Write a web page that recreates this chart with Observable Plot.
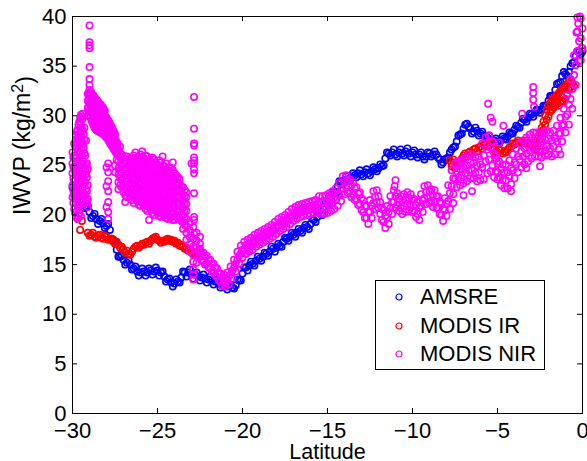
<!DOCTYPE html>
<html>
<head>
<meta charset="utf-8">
<script src="https://cdn.jsdelivr.net/npm/d3@7"></script>
<script src="https://cdn.jsdelivr.net/npm/@observablehq/plot@0.6"></script>
<style>
html,body{margin:0;padding:0;background:#fff;}
#wrap{position:relative;width:587px;height:461px;font-family:"Liberation Sans",Arial,Helvetica,sans-serif;}
#legend{position:absolute;left:375px;top:280px;width:168px;height:88px;border:1px solid #000;background:#fff;}
.lrow{position:absolute;left:0;height:24px;line-height:24px;font-size:22px;color:#000;white-space:nowrap;}
.lrow svg{position:absolute;left:18px;top:7px;}
.lrow span{position:absolute;left:44px;top:0;}
</style>
</head>
<body>
<div id="wrap"><div id="legend"></div></div>
<script>
// ---------- tick labels ----------
const xTicks = [-30, -25, -20, -15, -10, -5, 0];
const xTickLabels = ["\u221230", "\u221225", "\u221220", "\u221215", "\u221210", "\u22125", "0"];
const yTicks = [0, 5, 10, 15, 20, 25, 30, 35, 40];
const yTickLabels = ["0", "5", "10", "15", "20", "25", "30", "35", "40"];
const xLabel = "Latitude";
const yLabel = "IWVP (kg/m\u00b2)";

// ---------- legend ----------
const seriesNames = ["AMSRE", "MODIS IR", "MODIS NIR"];
const seriesColors = ["#0000ff", "#ff0000", "#ff00ff"];

// ---------- AMSRE ----------
const amsreLat = [
-30,-29.9,-29.8,-29.7,-29.6,-29.5,-29.4,-29.3,-29.2,-29.1,
-29,-28.9,-28.8,-28.7,-28.6,-28.5,-28.4,-28.3,-28.2,-28.1,
-28,-27.9,-27.8,-27.7,-27.6,-27.5,-27.4,-27.3,-27.2,-27.1,
-27,-26.9,-26.8,-26.7,-26.6,-26.5,-26.4,-26.3,-26.2,-26.1,
-26,-25.9,-25.8,-25.7,-25.6,-25.5,-25.4,-25.3,-25.2,-25.1,
-25,-24.9,-24.8,-24.7,-24.6,-24.5,-24.4,-24.3,-24.2,-24.1,
-24,-23.9,-23.8,-23.7,-23.6,-23.5,-23.4,-23.3,-23.2,-23.1,
-23,-22.9,-22.8,-22.7,-22.6,-22.5,-22.4,-22.3,-22.2,-22.1,
-22,-21.9,-21.8,-21.7,-21.6,-21.5,-21.4,-21.3,-21.2,-21.1,
-21,-20.9,-20.8,-20.7,-20.6,-20.5,-20.4,-20.3,-20.2,-20.1,
-20,-19.9,-19.8,-19.7,-19.6,-19.5,-19.4,-19.3,-19.2,-19.1,
-19,-18.9,-18.8,-18.7,-18.6,-18.5,-18.4,-18.3,-18.2,-18.1,
-18,-17.9,-17.8,-17.7,-17.6,-17.5,-17.4,-17.3,-17.2,-17.1,
-17,-16.9,-16.8,-16.7,-16.6,-16.5,-16.4,-16.3,-16.2,-16.1,
-16,-15.9,-15.8,-15.7,-15.6,-15.5,-15.4,-15.3,-15.2,-15.1,
-15,-14.9,-14.8,-14.7,-14.6,-14.5,-14.4,-14.3,-14.2,-14.1,
-14,-13.9,-13.8,-13.7,-13.6,-13.5,-13.4,-13.3,-13.2,-13.1,
-13,-12.9,-12.8,-12.7,-12.6,-12.5,-12.4,-12.3,-12.2,-12.1,
-12,-11.9,-11.8,-11.7,-11.6,-11.5,-11.4,-11.3,-11.2,-11.1,
-11,-10.9,-10.8,-10.7,-10.6,-10.5,-10.4,-10.3,-10.2,-10.1,
-10,-9.9,-9.8,-9.7,-9.6,-9.5,-9.4,-9.3,-9.2,-9.1,
-9,-8.9,-8.8,-8.7,-8.6,-8.5,-8.4,-8.3,-8.2,-8.1,
-8,-7.9,-7.8,-7.7,-7.6,-7.5,-7.4,-7.3,-7.2,-7.1,
-7,-6.9,-6.8,-6.7,-6.6,-6.5,-6.4,-6.3,-6.2,-6.1,
-6,-5.9,-5.8,-5.7,-5.6,-5.5,-5.4,-5.3,-5.2,-5.1,
-5,-4.9,-4.8,-4.7,-4.6,-4.5,-4.4,-4.3,-4.2,-4.1,
-4,-3.9,-3.8,-3.7,-3.6,-3.5,-3.4,-3.3,-3.2,-3.1,
-3,-2.9,-2.8,-2.7,-2.6,-2.5,-2.4,-2.3,-2.2,-2.1,
-2,-1.9,-1.8,-1.7,-1.6,-1.5,-1.4,-1.3,-1.2,-1.1,
-1,-0.9,-0.8,-0.7,-0.6,-0.5,-0.4,-0.3,-0.2,-0.1,
0];
const amsreIwvp = [
22.8,22.2,22.4,21.7,21.9,21.3,21.4,20.7,20.8,20.9,
20.3,19.7,19.9,20.1,19.6,19.1,19.4,19.6,19.2,18.7,
18.9,19.1,18.5,17.6,17.5,17.3,16.5,15.8,15.8,15.9,
15.5,15.0,15.2,15.4,15.0,14.5,14.6,14.8,14.3,13.9,
14.2,14.6,14.3,13.9,14.2,14.6,14.4,14.0,14.3,14.7,
14.4,13.9,14.2,14.3,13.8,13.3,13.5,13.6,13.2,12.8,
13.1,13.5,13.3,13.2,13.7,14.3,14.2,13.8,14.2,14.5,
14.0,13.6,14.0,14.2,13.8,13.4,13.7,14.0,13.6,13.2,
13.5,13.8,13.4,13.0,13.3,13.5,13.1,12.7,12.9,13.2,
12.8,12.5,12.8,13.0,12.7,12.6,12.9,13.5,13.4,13.4,
14.1,14.7,14.7,14.4,14.9,15.3,15.1,14.9,15.4,15.8,
15.6,15.4,15.8,16.2,16.1,15.9,16.3,16.8,16.6,16.3,
16.7,17.1,16.9,16.8,17.3,17.7,17.6,17.4,17.8,18.2,
18.0,17.8,18.2,18.6,18.4,18.2,18.7,19.0,18.8,18.6,
19.1,19.6,19.5,19.3,19.8,20.3,20.1,20.0,20.6,21.2,
21.2,21.1,21.7,22.3,22.3,22.2,22.9,23.4,23.3,23.1,
23.5,23.9,23.6,23.4,23.8,24.2,24.0,23.8,24.2,24.5,
24.1,23.9,24.3,24.6,24.2,24.0,24.4,24.8,24.6,24.4,
24.7,25.1,24.9,25.0,25.7,26.3,26.2,26.0,26.3,26.6,
26.1,25.9,26.3,26.6,26.2,26.0,26.4,26.7,26.2,25.9,
26.3,26.5,26.1,25.8,26.1,26.3,25.9,25.6,25.9,26.3,
26.2,25.9,26.1,26.4,26.1,25.8,25.6,25.1,25.3,25.6,
25.7,25.8,26.3,26.6,26.8,26.9,27.4,28.0,28.1,28.2,
28.7,29.1,29.2,28.9,28.7,28.2,28.4,28.8,28.5,28.0,
28.2,28.4,28.0,27.6,27.8,28.0,27.6,27.3,27.5,27.7,
27.4,27.2,27.5,27.9,27.7,27.6,27.9,28.3,28.2,28.2,
28.6,29.0,28.9,28.8,29.3,29.7,29.6,29.4,29.8,30.2,
30.1,29.9,30.3,30.6,30.5,30.3,30.6,31.0,31.0,31.0,
31.5,32.0,32.0,32.0,32.6,33.2,33.3,33.4,34.0,34.4,
34.2,34.0,34.4,35.0,35.3,35.4,36.0,36.5,36.4,36.2,
36.5];

// ---------- MODIS IR ----------
const irLat = [
-29.55,-29.45,
-29.1,-29,-28.9,-28.8,-28.7,-28.6,-28.5,-28.4,-28.3,-28.2,
-28.1,-28,-27.9,-27.8,-27.7,-27.6,-27.5,-27.4,-27.3,-27.2,
-27.1,-27,-26.9,-26.8,-26.7,-26.6,-26.5,-26.4,-26.3,-26.2,
-26.1,-26,-25.9,-25.8,-25.7,-25.6,-25.5,-25.4,-25.3,-25.2,
-25.1,-25,-24.9,-24.8,-24.7,-24.6,-24.5,-24.4,-24.3,-24.2,
-24.1,-24,-23.9,-23.8,-23.7,-23.6,-23.5,-23.4,-23.3,-23.2,
-23.1,-23,-22.9,-22.8,-22.7,-22.6,-22.5,
-7.8,-7.7,-7.6,-7.5,-7.4,-7.3,-7.2,-7.1,-7,-6.9,
-6.8,-6.7,-6.6,-6.5,-6.4,-6.3,-6.2,-6.1,-6,-5.9,
-5.8,-5.7,-5.6,-5.5,-5.4,-5.3,-5.2,-5.1,-5,-4.9,
-4.8,-4.7,-4.6,-4.5,-4.4,-4.3,-4.2,-4.1,-4,-3.9,
-3.8,-3.7,-3.6,-3.5,-3.4,-3.3,-3.2,-3.1,-3,-2.9,
-2.8,-2.7,-2.6,-2.5,-2.4,-2.3,-2.2,-2.1,-2,-1.9,
-1.8,-1.7,-1.6,-1.5,-1.4,-1.3,-1.2,-1.1,-1,-0.9,
-0.8,-0.7,-0.6,-0.5,
-2.5,-2.4,-2.3,-2.2,-2.1,-2,-1.9,-1.8,-1.7,-1.6,
-1.5,-1.4,-1.3,-1.2,-1.1,-1,-0.9,-0.8,-0.7,
-5,-5.1,-2.8,-2.5,-2.2,-7.7,-7.5];
const irIwvp = [
18.5,19.4,
18.2,17.9,18.0,18.2,17.8,17.7,17.9,18.0,17.7,17.6,
17.9,17.8,17.5,17.6,17.6,17.3,17.1,17.3,17.0,16.7,
16.8,16.5,16.2,16.4,16.1,16.0,16.3,16.6,16.8,16.9,
16.7,16.9,17.1,17.0,17.2,17.3,17.1,17.4,17.6,17.7,
17.8,17.5,17.4,17.2,17.4,17.3,17.5,17.6,17.4,17.5,
17.3,17.4,17.1,17.2,16.9,17.0,16.8,16.6,16.7,16.4,
16.5,16.2,16.3,16.0,16.2,15.9,16.0,
25.5,25.2,25.6,25.3,25.0,25.4,25.2,25.7,26.0,26.2,
25.9,26.3,26.4,26.2,26.6,26.7,26.4,26.8,26.9,26.7,
27.1,27.2,26.9,27.0,27.2,26.8,26.6,26.4,26.3,26.6,
26.5,26.2,26.4,26.3,26.6,26.8,26.9,27.2,27.1,27.3,
27.5,27.3,27.2,27.4,27.2,27.5,27.3,27.1,27.2,26.9,
27.1,27.4,27.9,28.3,28.8,29.4,30.0,30.6,31.0,31.3,
31.6,31.8,31.9,32.1,32.3,32.5,32.7,32.9,33.0,33.2,
33.4,33.5,33.3,33.0,
27.6,28.2,28.6,29.1,29.6,29.9,30.4,30.6,30.8,31.0,
31.2,31.0,31.3,31.5,31.4,31.7,32.2,32.6,32.9,
24.3,25.7,26.6,26.4,26.5,24.9,24.7];

// ---------- MODIS NIR south of -22.5 (scattered cloud), listed by latitude columns ----------
const nirCloudLat = [
-30,-29.95,-29.9,-29.85,-29.8,-29.75,-29.7,-29.65,-29.6,-29.55,
-29.5,-29.45,-29.4,-29.35,-29.3,-29.25,-29.2,-29.15,-29.1,-29.05,
-29,-28.95,-28.9,-28.85,-28.8,-28.75,-28.7,-28.65,-28.6,-28.55,
-28.5,-28.45,-28.4,-28.35,-28.3,-28.25,-28.2,-28.15,-28.1,-28.05,
-28,-27.95,-27.9,-27.85,-27.8,-27.75,-27.7,-27.65,-27.6,-27.55,
-27.5,-27.45,-27.4,-27.35,
-27.3,-27.2,-27.1,-27,-26.9,-26.8,-26.7,-26.6,-26.5,-26.4,
-26.3,-26.2,-26.1,-26,-25.9,-25.8,-25.7,-25.6,-25.5,-25.4,
-25.3,-25.2,-25.1,-25,-24.9,-24.8,-24.7,-24.6,-24.5,-24.4,
-24.3,-24.2,-24.1,-24,-23.9,-23.8,-23.7,-23.6,-23.5,-23.4,
-23.3,-23.1,-23,-22.9,-22.85,-22.7,-22.5];
const nirCloudIwvp = [
[21.8,23.0,24.2,25.2,26.3],
[21.2,22.5,23.7,24.8,25.8],
[20.6,22.0,23.4,24.8,26.0,27.2],
[20.2,21.6,23.0,24.4,25.7,27.0],
[19.8,21.2,22.6,24.0,25.4,26.8,28.0],
[20.4,21.7,23.1,24.5,25.9,27.3,28.4],
[19.6,20.9,22.3,23.7,25.0,26.4,27.7,28.6],
[19.9,21.1,22.8,24.0,25.3,26.7,28.0,29.1],
[20.2,21.5,24.4,25.6,27.0,28.2,29.4],
[21.0,23.6,24.9,26.3,27.6,28.8,29.8],
[19.9,22.0,23.2,25.2,26.7,28.0,29.2,30.1],
[23.5,24.7,26.0,27.4,28.8,29.9],
[22.8,24.0,25.5,27.1,28.5,29.7,30.2],
[22.2,23.8,25.2,26.8,28.1],
[23.4,24.8,26.2,27.6,28.8],
[22.0,23.3,24.6,26.0],
[21.2,22.6,24.1,25.0,27.5],
[21.4,22.4,23.8,25.2],
[20.8,21.6,23.0,24.6,30.8,31.5,32.2],
[30.0,30.8,31.6,32.3],
[30.4,31.2,32.0,32.6,33.1,33.7,34.9,36.8,37.1,37.4,39.1],
[29.9,30.7,31.5,32.2],
[29.6,30.4,31.2,32.0,32.4],
[29.4,30.2,31.0,31.8],
[29.2,30.0,30.8,31.6,32.1],
[29.0,29.8,30.6,31.4,32.0],
[28.8,29.6,30.4,31.2,31.8],
[28.7,29.5,30.3,31.1],
[28.6,29.4,30.2,31.0,31.6],
[28.5,29.3,30.1,30.9,31.5],
[28.5,29.2,30.0,30.8,31.4],
[28.4,29.1,29.9,30.7],
[28.4,29.0,29.8,30.6,31.2],
[28.3,29.0,29.8,30.5,31.1],
[28.3,29.0,29.7,30.4,31.0],
[28.2,28.9,29.6,30.3],
[28.2,28.9,29.6,30.2,30.8],
[28.1,28.8,29.5,30.1,30.6],
[28.0,28.7,29.4,30.0,30.5],
[27.9,28.6,29.3,29.9],
[20.8,22.9,24.8,27.8,28.5,29.2,29.8],
[27.7,28.4,29.0,29.6],
[19.6,20.3,21.3,22.4,23.4,24.3,25.2,27.6,28.2,28.9,29.5],
[27.4,28.1,28.8,29.4],
[27.3,27.9,28.6,29.2],
[27.1,27.8,28.4,29.0],
[27.0,27.6,28.3,28.9],
[26.9,27.5,28.1,28.7],
[26.7,27.3,28.0,28.5],
[26.6,27.2,27.8,28.3],
[24.3,25.0,26.5,27.0,27.6,28.1],
[26.3,26.9,27.5],
[25.6,26.2,26.8,27.3],
[26.1,26.7,27.2],
[22.6,23.3,24.1,24.7,25.4,26.0,26.5],
[23.0,23.7,24.4,25.1,25.8,26.3,26.9],
[22.8,23.5,24.2,24.9,25.6,26.1],
[22.3,23.1,23.8,24.5,25.2,25.8],
[21.3,22.0,22.7,23.4,24.1,24.8,25.5,25.9],
[21.8,22.5,23.3,24.0,24.6,25.3,25.9],
[22.2,22.9,23.6,24.3,25.0,25.6],
[21.9,22.6,23.2,24.0,24.7,25.4],
[21.5,22.2,22.9,23.6,24.3,25.0,25.7],
[21.2,22.0,22.7,23.5,24.1,24.9,25.5,26.0],
[21.7,22.4,23.1,23.8,24.5,25.2,25.8,26.3],
[21.4,22.1,22.8,23.5,24.2,24.8,25.5],
[21.0,21.7,22.4,23.1,23.8,24.5,25.2,25.7],
[20.9,21.5,22.3,23.0,23.7,24.4,25.0,25.6,26.1],
[21.2,21.9,22.6,23.3,24.0,24.7,25.4,25.9,26.4],
[21.0,21.7,22.4,23.0,23.8,24.4,25.1,25.7],
[20.6,21.3,22.0,22.7,23.4,24.1,24.8,25.5,26.0],
[20.4,21.1,21.8,22.6,23.2,23.9,24.6,25.3,25.9],
[19.5,20.8,21.5,22.2,22.9,23.6,24.3,25.0,25.6],
[20.5,21.2,21.9,22.6,23.3,24.0,24.7,25.4],
[20.2,20.9,21.6,22.3,23.0,23.7,24.4,25.1,25.8],
[20.0,20.7,21.4,22.1,22.8,23.5,24.2,24.9,25.6],
[20.4,21.1,21.8,22.5,23.2,23.9,24.6,25.3],
[20.2,20.9,21.6,22.4,23.1,23.7,24.4,25.1],
[19.9,20.6,21.3,22.0,22.7,23.4,24.1,24.8,25.5],
[19.8,20.5,21.2,21.8,22.6,23.3,24.0,24.7,25.3],
[20.1,20.8,21.5,22.2,22.9,23.6,24.3,25.0,25.9],
[20.0,20.7,21.4,22.1,22.8,23.5,24.2,24.9],
[19.7,20.4,21.1,21.8,22.5,23.2,23.9,24.6,25.2],
[19.6,20.3,21.0,21.7,22.4,23.1,23.8,24.5],
[19.9,20.6,21.3,22.0,22.7,23.4,24.1,24.8],
[19.8,20.4,21.2,21.9,22.5,23.3,24.0,24.7],
[19.5,20.2,20.9,21.6,22.3,23.0,23.7,24.5,25.3],
[19.5,20.1,20.8,21.5,22.2,22.9,23.6,24.2],
[19.8,20.5,21.2,21.9,22.6,23.3,24.0],
[19.7,20.4,21.0,21.8,22.5,23.2,23.8],
[19.6,20.3,21.0,21.7,22.4,23.1,23.6],
[19.4,20.1,20.8,21.5,22.2,22.9],
[18.6,19.3,20.0,20.7,21.4,22.1,22.8],
[19.0,19.8,20.5,21.2,21.9,22.5],
[17.5,18.2,18.9,19.6,20.4,21.1,21.8,22.3],
[16.4,17.1,17.8,18.5,19.2],
[25.2],
[13.5,14.0,14.5,15.3,16.0,16.8,17.6,18.8],
[18.1,19.5,19.8,22.2,24.2,24.6,25.2,25.5,25.8,27.0,27.2,28.7,31.9],
[15.2,16.0,16.7,17.4,18.2],
[16.4,17.1,17.8]];

// ---------- MODIS NIR north of -22.5: four readings across the band per step ----------
const nirLineLat = [
-22.4,-22.2,-22,-21.8,-21.6,-21.4,-21.2,-21,-20.8,-20.6,
-20.4,-20.2,-20,-19.8,-19.6,-19.4,-19.2,-19,-18.8,-18.6,
-18.4,-18.2,-18,-17.8,-17.6,-17.4,-17.2,-17,-16.8,-16.6,
-16.4,-16.2,-16,-15.8,-15.6,-15.4,-15.2,-15,-14.8,-14.6,
-14.4,-14.2,-14,-13.8,-13.6,-13.4,-13.2,-13,-12.8,-12.6,
-12.4,-12.2,-12,-11.8,-11.6,-11.4,-11.2,-11,-10.8,-10.6,
-10.4,-10.2,-10,-9.8,-9.6,-9.4,-9.2,-9,-8.8,-8.6,
-8.4,-8.2,-8,-7.8,-7.6,-7.4,-7.2,-7,-6.8,-6.6,
-6.4,-6.2,-6,-5.8,-5.6,-5.4,-5.2,-5,-4.8,-4.6,
-4.4,-4.2,-4,-3.8,-3.6,-3.4,-3.2,-3,-2.8,-2.6,
-2.4,-2.2,-2,-1.8,-1.6,-1.4,-1.2,-1,-0.8,-0.6,
-0.4,-0.2,0];
const nirLineLatB = [
-22.5,-22.3,-22.1,-21.9,-21.7,-21.5,-21.3,-21.1,-20.9,-20.7,
-20.5,-20.3,-20.1,-19.9,-19.7,-19.5,-19.3,-19.1,-18.9,-18.7,
-18.5,-18.3,-18.1,-17.9,-17.7,-17.5,-17.3,-17.1,-16.9,-16.7,
-16.5,-16.3,-16.1,-15.9,-15.7,-15.5,-15.3,-15.1,-14.9,-14.7,
-14.5,-14.3,-14.1,-13.9,-13.7,-13.5,-13.3,-13.1,-12.9,-12.7,
-12.5,-12.3,-12.1,-11.9,-11.7,-11.5,-11.3,-11.1,-10.9,-10.7,
-10.5,-10.3,-10.1,-9.9,-9.7,-9.5,-9.3,-9.1,-8.9,-8.7,
-8.5,-8.3,-8.1,-7.9,-7.7,-7.5,-7.3,-7.1,-6.9,-6.7,
-6.5,-6.3,-6.1,-5.9,-5.7,-5.5,-5.3,-5.1,-4.9,-4.7,
-4.5,-4.3,-4.1,-3.9,-3.7,-3.5,-3.3,-3.1,-2.9,-2.7,
-2.5,-2.3,-2.1,-1.9,-1.7,-1.5,-1.3,-1.1,-0.9,-0.7,
-0.5,-0.3,-0.1];
const nirRowA = [
15.4,15.0,14.7,14.3,13.9,13.4,12.9,12.8,13.0,13.6,
14.3,15.1,15.7,16.1,16.3,16.5,16.8,17.0,17.2,17.4,
17.6,17.8,18.1,18.4,18.6,18.8,19.1,19.4,19.6,19.8,
19.9,20.0,20.1,20.2,20.3,20.1,20.1,20.2,20.4,20.6,
20.9,21.4,22.1,22.2,21.8,21.5,21.0,20.5,19.7,19.1,
19.7,20.6,20.7,19.5,18.7,19.1,20.1,20.7,20.4,20.1,
20.3,20.5,20.3,19.8,19.5,20.3,21.1,21.2,20.8,20.7,
20.1,19.4,19.9,20.6,22.1,22.8,23.0,23.2,23.4,23.7,
23.7,23.4,23.5,23.6,24.2,24.4,23.8,23.6,23.0,22.7,
22.7,23.1,23.7,24.3,24.8,25.1,25.4,25.7,25.9,25.9,
25.8,26.0,26.1,25.9,26.1,26.6,27.4,28.3,29.1,30.7,
33.1,35.5,36.8];
const nirRowB = [
15.8,15.4,15.1,14.7,14.3,13.8,13.3,13.2,13.4,14.0,
14.7,15.5,16.1,16.5,16.7,16.9,17.2,17.4,17.6,17.8,
18.0,18.2,18.5,18.8,19.0,19.2,19.5,19.8,20.0,20.2,
20.3,20.4,20.5,20.6,20.7,20.7,20.7,20.8,21.0,21.2,
21.5,22.0,22.7,22.8,22.4,22.1,21.6,21.1,20.3,19.7,
20.3,21.2,21.3,20.1,19.3,19.7,20.7,21.3,21.0,20.7,
20.9,21.1,20.9,20.4,20.1,20.9,21.7,21.8,21.4,21.3,
20.7,20.0,20.5,21.4,22.9,23.6,23.8,24.0,24.2,24.5,
24.5,24.2,24.3,24.8,25.4,25.6,25.0,24.4,23.8,23.5,
23.5,23.9,24.5,25.1,25.6,25.9,26.2,26.5,26.7,26.7,
26.6,26.8,26.9,26.7,26.9,27.4,28.2,29.1,30.1,31.7,
34.1,36.5,37.8];
const nirRowC = [
16.2,15.8,15.5,15.1,14.7,14.2,13.7,13.6,13.8,14.4,
15.1,15.9,16.5,16.9,17.1,17.3,17.6,17.8,18.0,18.2,
18.4,18.6,18.9,19.2,19.4,19.6,19.9,20.2,20.4,20.6,
20.7,20.8,20.9,21.0,21.1,21.3,21.3,21.4,21.6,21.8,
22.1,22.6,23.3,23.4,23.0,22.7,22.2,21.7,20.9,20.3,
20.9,21.8,21.9,20.7,19.9,20.3,21.3,21.9,21.6,21.3,
21.5,21.7,21.5,21.0,20.7,21.5,22.3,22.4,22.0,21.9,
21.3,20.6,21.1,22.2,23.7,24.4,24.6,24.8,25.0,25.3,
25.3,25.0,25.1,26.0,26.6,26.8,26.2,25.2,24.6,24.3,
24.3,24.7,25.3,25.9,26.4,26.7,27.0,27.3,27.5,27.5,
27.4,27.6,27.7,27.5,27.7,28.2,29.0,29.9,31.1,32.7,
35.1,37.5,38.8];
const nirRowD = [
16.6,16.2,15.9,15.5,15.1,14.6,14.1,14.0,14.2,14.8,
15.5,16.3,16.9,17.3,17.5,17.7,18.0,18.2,18.4,18.6,
18.8,19.0,19.3,19.6,19.8,20.0,20.3,20.6,20.8,21.0,
21.1,21.2,21.3,21.4,21.5,21.9,21.9,22.0,22.2,22.4,
22.7,23.2,23.9,24.0,23.6,23.3,22.8,22.3,21.5,20.9,
21.5,22.4,22.5,21.3,20.5,20.9,21.9,22.5,22.2,21.9,
22.1,22.3,22.1,21.6,21.3,22.1,22.9,23.0,22.6,22.5,
21.9,21.2,21.7,23.0,24.5,25.2,25.4,25.6,25.8,26.1,
26.1,25.8,25.9,27.2,27.8,28.0,27.4,26.0,25.4,25.1,
25.1,25.5,26.1,26.7,27.2,27.5,27.8,28.1,28.3,28.3,
28.2,28.4,28.5,28.3,28.5,29.0,29.8,30.7,32.1,33.7,
36.1,38.5,39.8];
const nirExtraLat = [-5.55,-5.4,-5.3,-4.65,-4.9,-3.55,-2.9,-2.9,-2.9,-2.85,-11,-11.05,-0.3,-0.25,-0.15,-0.35,-0.1,-0.05,-6.5,-7,-7.6,-4.2,-3.3,-14.9,-1.3,-2.5];
const nirExtraIwvp = [31.2,29.8,29.4,29.0,27.3,30.2,32.9,32.3,31.6,30.9,23.5,22.9,39.9,39.3,40.0,38.4,35.6,36.8,22.4,22.0,21.2,22.4,24.7,21.9,26.1,24.9];

// ---------- build tables ----------
const amsre = amsreLat.map((lat, i) => ({lat, v: amsreIwvp[i]}));
const ir = irLat.map((lat, i) => ({lat, v: irIwvp[i]}));
const nir = [];
nirCloudLat.forEach((lat, i) => nirCloudIwvp[i].forEach(v => nir.push({lat, v})));
nirLineLat.forEach((lat, i) => {
  nir.push({lat, v: nirRowA[i]});
  nir.push({lat: nirLineLatB[i], v: nirRowB[i]});
  nir.push({lat, v: nirRowC[i]});
  nir.push({lat: nirLineLatB[i], v: nirRowD[i]});
});
nirExtraLat.forEach((lat, i) => nir.push({lat, v: nirExtraIwvp[i]}));

const W = 587, H = 461, mL = 72, mR = 5, mT = 16, mB = 48;
const innerW = W - mL - mR, innerH = H - mT - mB;
const xFmt = d => xTickLabels[xTicks.indexOf(d)];
const yFmt = d => yTickLabels[yTicks.indexOf(d)];
const dotOpts = (c) => ({x: "lat", y: "v", r: 3.2, stroke: c, strokeWidth: 1.6, fill: "none"});

const chart = Plot.plot({
  width: W, height: H,
  marginLeft: mL, marginRight: mR, marginTop: mT, marginBottom: mB,
  style: {fontFamily: "'Liberation Sans', Arial, Helvetica, sans-serif", background: "#fff", overflow: "visible", color: "#000"},
  x: {domain: [-30, 0], label: null},
  y: {domain: [0, 40], label: null},
  marks: [
    Plot.dot(amsre, dotOpts(seriesColors[0])),
    Plot.dot(ir, dotOpts(seriesColors[1])),
    Plot.dot(nir, dotOpts(seriesColors[2])),
    Plot.frame({stroke: "#000", strokeWidth: 1}),
    Plot.tickX(xTicks, {x: d => d, insetTop: innerH - 5, stroke: "#000"}),
    Plot.tickX(xTicks, {x: d => d, insetBottom: innerH - 5, stroke: "#000"}),
    Plot.tickY(yTicks, {y: d => d, insetRight: innerW - 5, stroke: "#000"}),
    Plot.tickY(yTicks, {y: d => d, insetLeft: innerW - 5, stroke: "#000"}),
    Plot.axisX(xTicks, {anchor: "bottom", tickSize: 0, tickPadding: 9, tickFormat: xFmt, fontSize: 22, label: null}),
    Plot.axisY(yTicks, {anchor: "left", tickSize: 0, tickPadding: 6, tickFormat: yFmt, fontSize: 22, label: null}),
    Plot.text([xLabel], {text: d => d, frameAnchor: "bottom", dy: 45, lineAnchor: "bottom", fontSize: 21.5, fill: "#000"}),
    Plot.text([yLabel], {text: d => d, frameAnchor: "left", dx: -50, rotate: -90, fontSize: 23, fill: "#000"})
  ]
});

// superscript for the unit
d3.select(chart).selectAll("text").filter(function () { return this.textContent === yLabel; })
  .each(function () {
    const t = d3.select(this);
    t.text(null);
    t.append("tspan").text("IWVP (kg/m");
    t.append("tspan").attr("dy", "-0.45em").attr("font-size", "16px").text("2");
    t.append("tspan").attr("dy", "0.45em").text(")");
  });

const wrap = document.getElementById("wrap");
wrap.insertBefore(chart, wrap.firstChild);

// legend
const rowCenters = [16.3, 44.7, 73];
const legend = document.getElementById("legend");
seriesNames.forEach((name, i) => {
  const row = document.createElement("div");
  row.className = "lrow";
  row.style.top = (rowCenters[i] - 12) + "px";
  row.style.width = "166px";
  row.innerHTML = `<svg width="10" height="10"><circle cx="5" cy="5" r="3" fill="none" stroke="${seriesColors[i]}" stroke-width="1.2"/></svg><span>${name}</span>`;
  legend.appendChild(row);
});
</script>
</body>
</html>
